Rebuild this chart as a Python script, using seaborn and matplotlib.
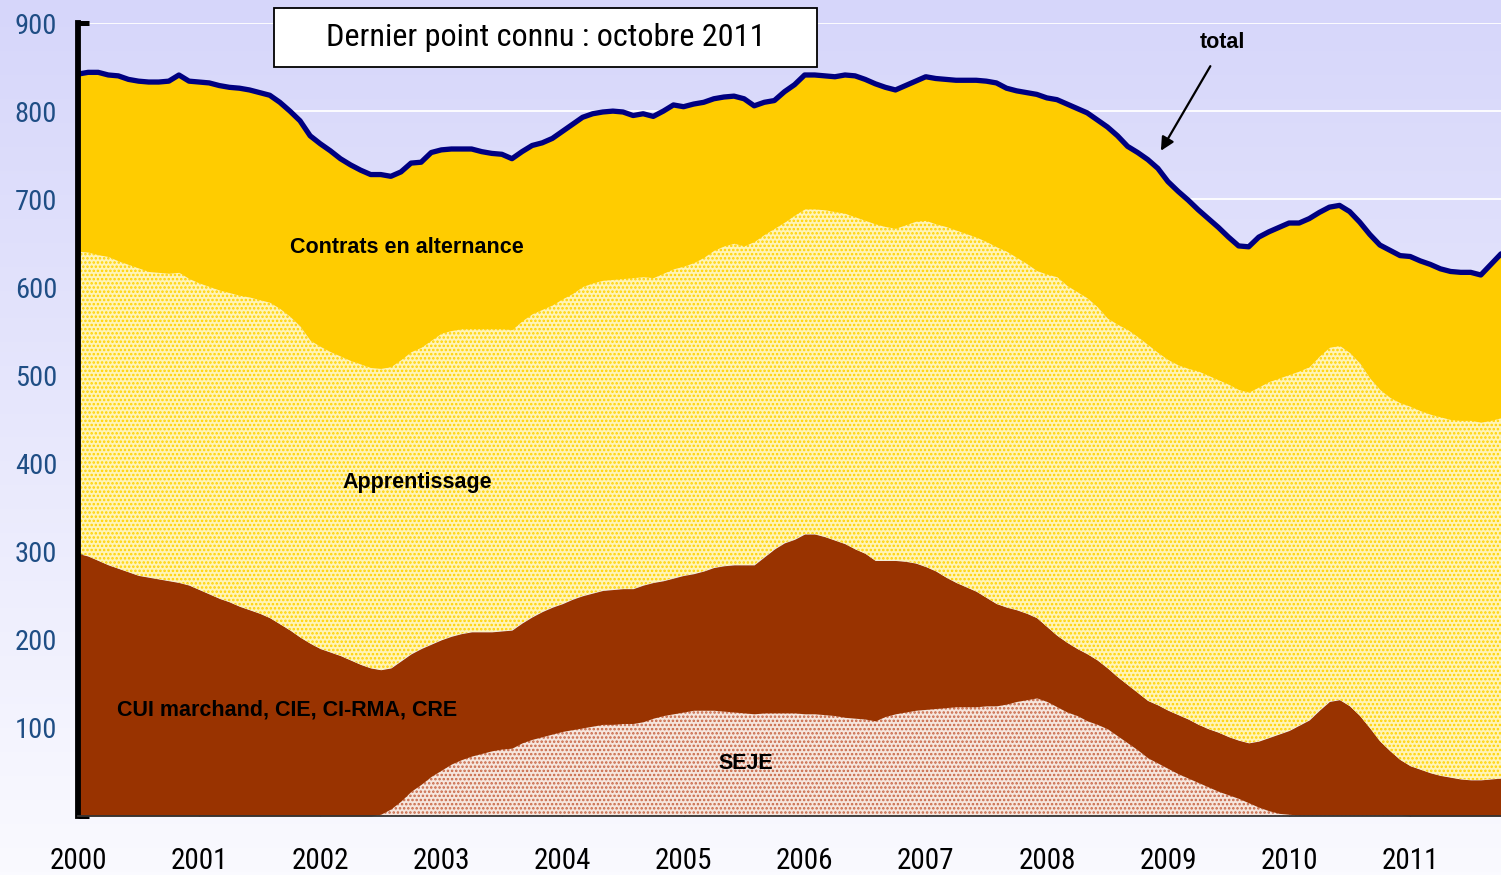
import numpy as np
import pandas as pd
import matplotlib
matplotlib.use("Agg")
import matplotlib.pyplot as plt
import seaborn as sns
from matplotlib.colors import LinearSegmentedColormap
from matplotlib.patches import Rectangle

# ---------------- data (thousands, monthly Jan 2000 - Oct 2011) ----------------
years = [str(y) for y in range(2000, 2012)]

seje = [
    0, 0, 0, 0, 0, 0, 0, 0, 0, 0, 0, 0,
    0, 0, 0, 0, 0, 0, 0, 0, 0, 0, 0, 0,
    0, 0, 0, 0, 0, 0, 2, 8, 17, 28, 36, 45,
    52, 59, 64, 68, 71, 74, 76, 77, 83, 87, 90, 93,
    96, 98, 100, 102, 104, 104, 105, 105, 107, 111, 114, 116,
    118, 120, 120, 120, 119, 118, 117, 116, 117, 117, 117, 117,
    116, 116, 115, 114, 112, 111, 110, 108, 113, 116, 118, 120,
    121, 122, 123, 124, 124, 124, 125, 125, 127, 130, 132, 134,
    130, 124, 118, 114, 108, 104, 99, 91, 83, 75, 66, 60,
    54, 48, 43, 38, 33, 28, 24, 20, 15, 10, 6, 3,
    2, 1, 1, 1, 1, 1, 1, 1, 1, 1, 1, 1,
    0, 0, 0, 0, 0, 0, 0, 0, 0, 0,
]

cui = [
    298, 295, 290, 285, 281, 277, 273, 271, 269, 267, 265, 262,
    257, 252, 247, 243, 238, 234, 230, 225, 218, 211, 203, 196,
    190, 186, 182, 177, 172, 168, 164, 160, 159, 156, 154, 150,
    148, 145, 143, 141, 138, 135, 134, 134, 136, 139, 142, 144,
    145, 148, 150, 151, 152, 153, 153, 153, 155, 154, 153, 154,
    155, 155, 158, 162, 165, 167, 168, 169, 177, 186, 193, 197,
    204, 204, 202, 199, 197, 192, 188, 182, 177, 174, 171, 167,
    162, 156, 148, 141, 136, 131, 123, 116, 110, 104, 98, 91,
    85, 81, 79, 76, 76, 73, 69, 67, 66, 65, 65, 66,
    66, 67, 67, 66, 66, 67, 66, 66, 68, 75, 83, 90,
    95, 102, 108, 119, 129, 131, 124, 113, 99, 84, 73, 63,
    57, 53, 49, 46, 44, 42, 41, 41, 42, 43,
]

apprentissage = [
    343, 345, 347, 350, 349, 349, 349, 347, 348, 349, 352, 348,
    348, 349, 350, 351, 353, 355, 356, 358, 358, 356, 353, 344,
    343, 341, 340, 340, 341, 341, 342, 342, 342, 343, 342, 345,
    348, 347, 346, 344, 344, 344, 343, 341, 343, 344, 343, 343,
    346, 347, 351, 352, 352, 352, 352, 353, 350, 346, 349, 351,
    351, 353, 356, 360, 363, 365, 362, 367, 366, 364, 364, 368,
    369, 369, 371, 373, 375, 377, 378, 382, 379, 377, 382, 388,
    393, 394, 398, 400, 401, 402, 404, 405, 404, 400, 397, 394,
    400, 407, 405, 405, 404, 401, 397, 400, 403, 404, 404, 400,
    398, 397, 398, 401, 401, 400, 400, 398, 398, 402, 404, 404,
    404, 402, 401, 402, 402, 402, 401, 400, 397, 399, 401, 405,
    408, 407, 407, 407, 406, 407, 408, 406, 407, 409,
]

alternance = [
    201, 204, 207, 206, 210, 210, 212, 215, 216, 218, 224, 224,
    228, 231, 232, 233, 235, 235, 235, 235, 234, 233, 233, 232,
    230, 228, 224, 222, 220, 219, 220, 216, 213, 214, 210, 213,
    208, 206, 204, 204, 201, 199, 198, 194, 192, 191, 189, 189,
    190, 192, 192, 192, 191, 191, 189, 184, 185, 183, 184, 186,
    181, 180, 176, 172, 169, 167, 167, 154, 150, 145, 148, 148,
    152, 152, 152, 153, 157, 160, 160, 159, 158, 157, 158, 159,
    163, 165, 167, 170, 174, 178, 182, 186, 185, 189, 194, 200,
    200, 201, 206, 208, 210, 212, 217, 214, 208, 209, 210, 209,
    202, 197, 191, 183, 178, 173, 167, 163, 165, 170, 170, 171,
    172, 168, 168, 163, 159, 159, 160, 160, 163, 164, 167, 167,
    170, 170, 170, 168, 168, 168, 168, 167, 177, 186,
]

y_ticks = [0, 100, 200, 300, 400, 500, 600, 700, 800, 900]
y_tick_labels = ["", "100", "200", "300", "400", "500", "600", "700", "800", "900"]

# ---------------- build frame ----------------
n = len(seje)
df = pd.DataFrame({
    "mois": np.arange(n),
    "SEJE": seje,
    "CUI": cui,
    "Apprentissage": apprentissage,
    "Alternance": alternance,
})
df["total"] = df[["SEJE", "CUI", "Apprentissage", "Alternance"]].sum(axis=1)

# ---------------- style ----------------
sns.set_style("white")
plt.rcParams["font.family"] = ["Roboto Condensed", "DejaVu Sans"]
plt.rcParams["hatch.linewidth"] = 1.2

fig = plt.figure(figsize=(15.01, 8.75), dpi=100)

# background gradient (lavender -> near white)
bg = fig.add_axes([0, 0, 1, 1], zorder=-5)
cmap_bg = LinearSegmentedColormap.from_list("bg", ["#FAFAFF", "#D6D6FA"])
bg.imshow(np.linspace(0, 1, 256).reshape(-1, 1)[::-1], aspect="auto",
          cmap=cmap_bg, extent=[0, 1, 0, 1])
bg.axis("off")

ax = fig.add_axes([78 / 1501, 59 / 875, 1 - 78 / 1501, (816 - 23) / 875], zorder=1)
ax.set_facecolor("none")

polys = ax.stackplot(
    df["mois"], df["SEJE"], df["CUI"], df["Apprentissage"], df["Alternance"],
    colors=["#F6E6DE", "#993300", "#FFF4B8", "#FFCC00"], linewidth=0, zorder=2,
)
# dotted textures
polys[0].set_hatch("....")
polys[0].set_edgecolor("#C86846")
polys[0].set_linewidth(0)
polys[2].set_hatch("....")
polys[2].set_edgecolor("#FFD200")
polys[2].set_linewidth(0)

sns.lineplot(data=df, x="mois", y="total", color="#000080", linewidth=3.8,
             ax=ax, zorder=4, legend=False)

ax.set_xlim(0, n - 1)
ax.set_ylim(0, 900)
ax.set_xlabel("")
ax.set_ylabel("")

ax.set_yticks(y_ticks)
ax.set_yticklabels(y_tick_labels)
ax.set_xticks(np.arange(0, n, 12))
ax.set_xticklabels(years)

ax.yaxis.grid(True, color="white", linewidth=1.3)
ax.xaxis.grid(False)
ax.set_axisbelow(True)

for s in ["top", "right"]:
    ax.spines[s].set_visible(False)
ax.spines["left"].set_linewidth(4.2)
ax.spines["left"].set_color("black")
ax.spines["left"].set_zorder(6)
ax.spines["bottom"].set_linewidth(1.3)
ax.spines["bottom"].set_color("#333333")
ax.spines["bottom"].set_zorder(6)

ax.tick_params(axis="y", direction="in", length=8, width=3.6, color="black",
               labelsize=20.5, labelcolor="#1F4E85", pad=15, left=True)
ax.tick_params(axis="x", direction="in", length=7, width=1.0, color="black",
               labelsize=21, labelcolor="black", pad=22, bottom=True)

# series labels
lab = dict(family=["Liberation Sans", "DejaVu Sans"], fontweight="bold",
           fontsize=15.5, color="black", ha="center", va="center", zorder=7)
ax.text(32.6, 645, "Contrats en alternance", **lab)
ax.text(33.6, 379, "Apprentissage", **lab)
ax.text(20.7, 120, "CUI marchand, CIE, CI-RMA, CRE", **lab)
ax.text(66.2, 60, "SEJE", **lab)
ax.text(113.4, 878, "total", **lab)
ax.annotate("", xy=(107.3, 755), xytext=(112.2, 851),
            arrowprops=dict(arrowstyle="-|>", color="black", lw=1.6,
                            mutation_scale=20, shrinkA=0, shrinkB=0),
            zorder=7)

# header box
fig.patches.append(Rectangle((274 / 1501, 1 - 67 / 875), 543 / 1501, 59 / 875,
                             transform=fig.transFigure, facecolor="white",
                             edgecolor="black", linewidth=1.3, zorder=10))
fig.text(545.5 / 1501, 1 - 38 / 875, "Dernier point connu : octobre 2011",
         ha="center", va="center", fontsize=23.2, color="black", zorder=11)

fig.savefig("out.png", dpi=100)
